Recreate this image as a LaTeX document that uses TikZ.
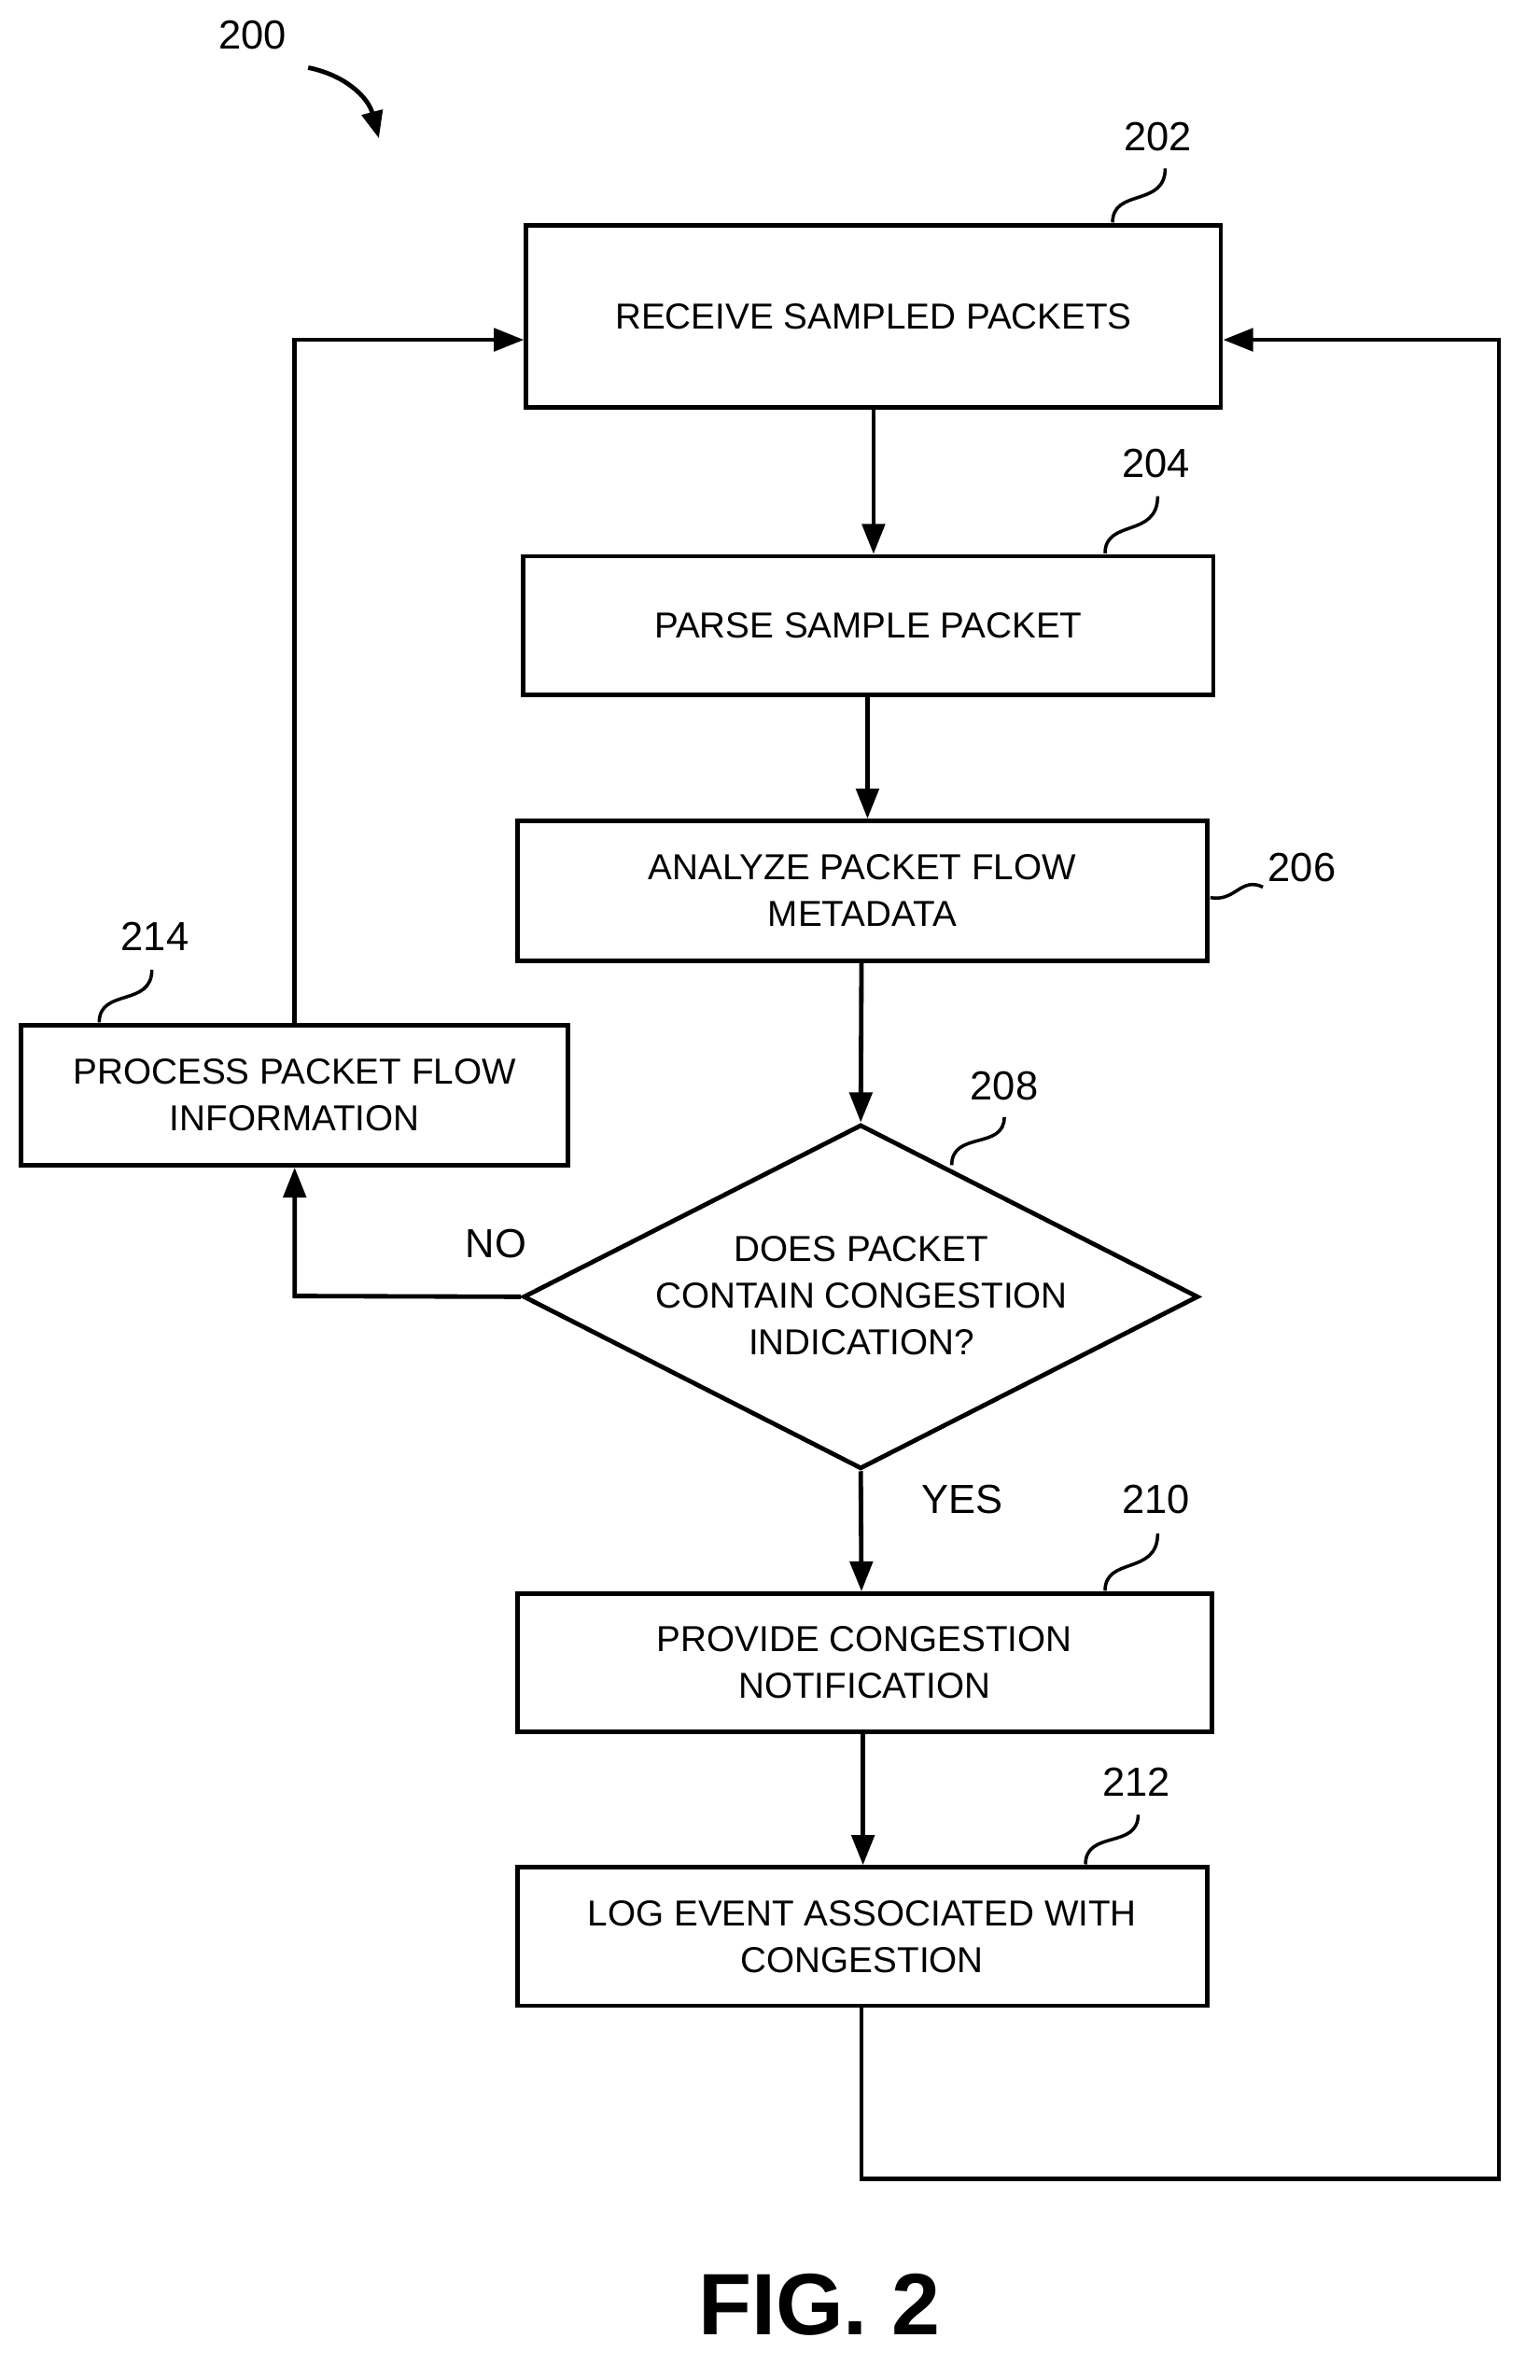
\documentclass[tikz,border=0pt]{standalone}
\usepackage{fontspec}
\setmainfont{Liberation Sans}
\usetikzlibrary{arrows.meta,shapes.geometric}
\begin{document}
\begin{tikzpicture}[x=1pt,y=-1pt,
  box/.style={draw,line width=3pt,align=center,font=\fontsize{24}{31}\selectfont,inner sep=0pt},
  lab/.style={font=\fontsize{27}{30}\selectfont},
  conn/.style={line width=3pt,-{Triangle[length=20pt,width=15pt]}},
  sq/.style={line width=2.2pt}]
\useasboundingbox (0,0) rectangle (1024,1583);
\node[box,minimum width=462pt,minimum height=121pt] (b202) at (581,210.5) {RECEIVE SAMPLED PACKETS};
\node[box,minimum width=459pt,minimum height=92pt] (b204) at (577.5,416) {PARSE SAMPLE PACKET};
\node[box,minimum width=459pt,minimum height=93pt] (b206) at (573.5,592.5) {ANALYZE PACKET FLOW\\METADATA};
\node[box,diamond,minimum width=449pt,minimum height=229pt] (b208) at (572.5,862.5) {};
\node[font=\fontsize{24}{31}\selectfont,align=center] (t208) at (573,862) {DOES PACKET\\CONTAIN CONGESTION\\INDICATION?};
\node[box,minimum width=462pt,minimum height=92pt] (b210) at (575,1106) {PROVIDE CONGESTION\\NOTIFICATION};
\node[box,minimum width=459pt,minimum height=92pt] (b212) at (573.5,1288) {LOG EVENT ASSOCIATED WITH\\CONGESTION};
\node[box,minimum width=364pt,minimum height=93pt] (b214) at (196,728.5) {PROCESS PACKET FLOW\\INFORMATION};

\draw[conn] (b202.south -| 581,0) -- (b204.north -| 581,0);
\draw[conn] (b204.south -| 577,0) -- (b206.north -| 577,0);
\draw[conn] (b206.south -| 573,0) -- (b208.north);
\draw[conn] (b208.south) -- (b210.north -| 573,0);
\draw[conn] (b210.south -| 574,0) -- (b212.north -| 574,0);
\coordinate (c1) at (573,1449);
\coordinate (c2) at (997,1449);
\coordinate (c3) at (997,226);
\draw[conn] (b212.south -| 573,0) -- (c1) -- (c2) -- (c3) -- (b202.east |- c3);
\coordinate (c4) at (196,226);
\draw[conn] (b214.north) -- (c4) -- (b202.west |- c4);
\coordinate (c5) at (196,862);
\draw[conn] (b208.west) -- (c5) -- (b214.south);

\node[lab] (no) at (330,827) {NO};
\node[lab] (yes) at (640,997) {YES};
\node[lab] (l200) at (168,23) {200};
\node[lab] (l202) at (770,91) {202};
\node[lab] (l204) at (769,308) {204};
\node[lab] (l206) at (866,577) {206};
\node[lab] (l208) at (668,722) {208};
\node[lab] (l210) at (769,997) {210};
\node[lab] (l212) at (756,1185) {212};
\node[lab] (l214) at (103,623) {214};
\node[font=\bfseries\fontsize{58}{60}\selectfont] (fig) at (545,1533) {FIG. 2};

\draw[line width=3pt,-{Triangle[length=18pt,width=14pt]}] (205,45) .. controls (230,50) and (245,65) .. (252,92);
\draw[sq] (740,148) .. controls (740,125) and (775,138) .. (775,112);
\draw[sq] (735,368) .. controls (735,345) and (770,358) .. (770,330);
\draw[sq] (805,597) .. controls (822,600) and (825,583) .. (840,590);
\draw[sq] (633,775) .. controls (633,752) and (668,765) .. (668,743);
\draw[sq] (735,1058) .. controls (735,1035) and (770,1048) .. (770,1020);
\draw[sq] (722,1240) .. controls (722,1217) and (757,1230) .. (757,1207);
\draw[sq] (66,680) .. controls (66,657) and (101,670) .. (101,645);
\end{tikzpicture}
\end{document}
